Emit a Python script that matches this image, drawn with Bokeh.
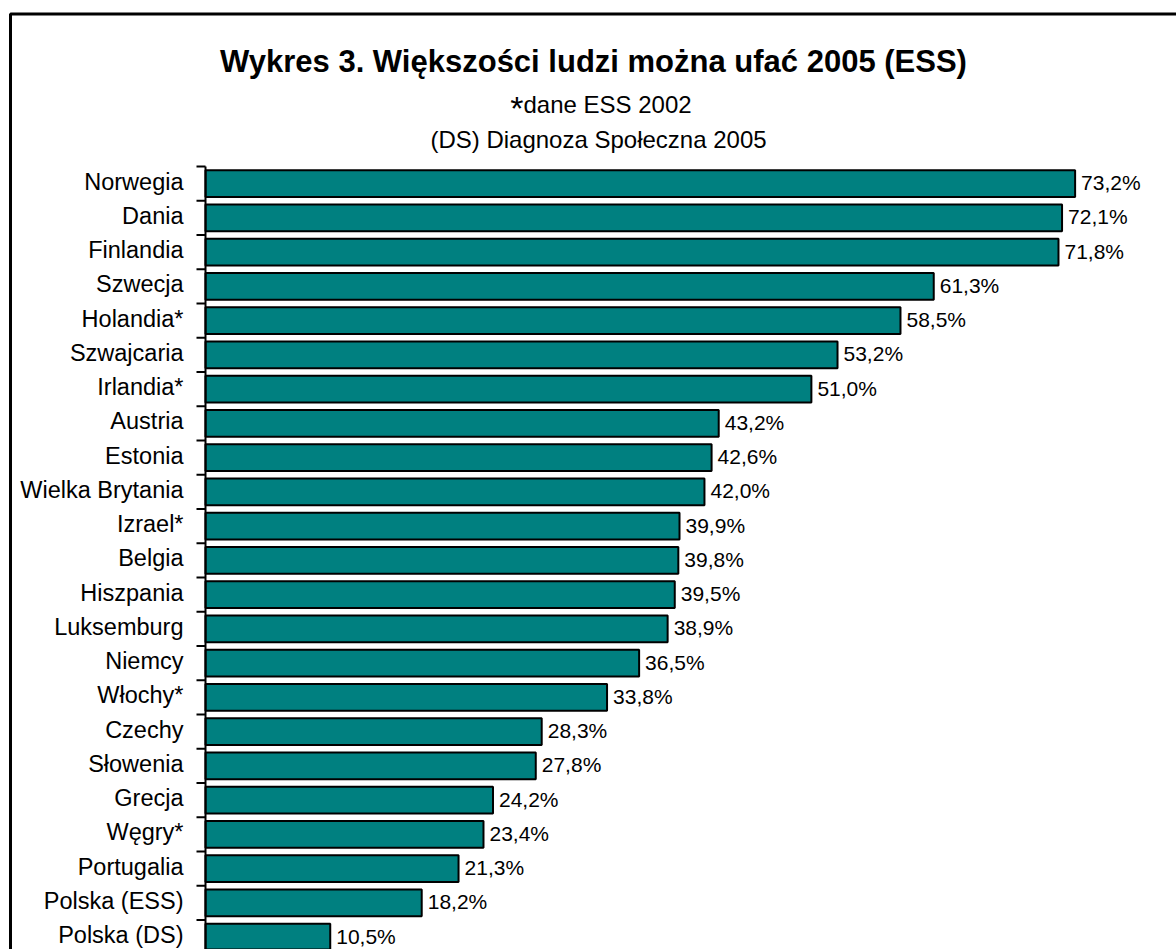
import math
from bokeh.plotting import figure
from bokeh.models import ColumnDataSource, Range1d, Label, BoxAnnotation
from bokeh.core.properties import value
from bokeh.embed import file_html
from bokeh.resources import INLINE

# ---- data ----
countries = ["Norwegia", "Dania", "Finlandia", "Szwecja", "Holandia*", "Szwajcaria",
             "Irlandia*", "Austria", "Estonia", "Wielka Brytania", "Izrael*", "Belgia",
             "Hiszpania", "Luksemburg", "Niemcy", "Włochy*", "Czechy", "Słowenia",
             "Grecja", "Węgry*", "Portugalia", "Polska (ESS)", "Polska (DS)"]
values = [73.2, 72.1, 71.8, 61.3, 58.5, 53.2, 51.0, 43.2, 42.6, 42.0, 39.9, 39.8,
          39.5, 38.9, 36.5, 33.8, 28.3, 27.8, 24.2, 23.4, 21.3, 18.2, 10.5]
title_text = "Wykres 3. Większości ludzi można ufać 2005 (ESS)"
sub1_star = "*"
sub1_text = "dane ESS 2002"
sub2_text = "(DS) Diagnoza Społeczna 2005"

FONT = "Liberation Sans"
W, H = 1176, 949
n = len(countries)
pos = [n - 1 - i for i in range(n)]          # first country at top
labels = [f"{v:.1f}".replace(".", ",") + "%" for v in values]
bounds = [k - 0.5 for k in range(n + 1)]

# layout of the plotting area (pixels)
AXIS_PX, PX_PER_PCT = 205, 11.88
TOP_PX, PX_PER_ROW = 166, 34.25
x_start = -AXIS_PX / PX_PER_PCT
x_end = (W - AXIS_PX) / PX_PER_PCT
y_end = (n - 0.5) + TOP_PX / PX_PER_ROW
y_start = (n - 0.5) - (H - TOP_PX) / PX_PER_ROW

src = ColumnDataSource(dict(y=pos, v=values, lab=labels, name=countries))

p = figure(width=W, height=H, output_backend="svg", toolbar_location=None,
           x_range=Range1d(x_start, x_end), y_range=Range1d(y_start, y_end),
           min_border=0, background_fill_color="white", border_fill_color="white")
p.outline_line_color = None
p.grid.visible = False
p.axis.visible = False

# bars
p.hbar(y="y", right="v", left=0, height=0.78, source=src,
       fill_color="#008080", line_color="black", line_width=2)

# value labels
p.text(x="v", y="y", text="lab", source=src, x_offset=6, y_offset=-1,
       text_align="left", text_baseline="middle",
       text_font=value(FONT), text_font_size="21px", text_color="black")

# category axis: line, boundary ticks, labels
p.segment(x0=[0], y0=[n - 0.5], x1=[0], y1=[bounds[0] - 1],
          line_color="black", line_width=2)
p.ray(x=[0] * len(bounds), y=bounds, length=9, length_units="screen",
      angle=math.pi, line_color="black", line_width=2)
p.text(x=[0] * n, y=pos, text=countries, x_offset=-22, y_offset=-2,
       text_align="right", text_baseline="middle",
       text_font=value(FONT), text_font_size="23.5px", text_color="black")

# outer chart frame (its right and bottom edges lie beyond the window)
p.add_layout(BoxAnnotation(left=10, right=W + 30, top=13.5, bottom=H + 30,
                           left_units="canvas", right_units="canvas",
                           top_units="canvas", bottom_units="canvas",
                           fill_color=None, fill_alpha=0,
                           line_color="black", line_alpha=1, line_width=3))

# titles
p.add_layout(Label(x=593, y=60.5, x_units="canvas", y_units="canvas", text=title_text,
                   text_align="center", text_baseline="alphabetic", text_font=FONT,
                   text_font_size="31px", text_font_style="bold", text_color="black"))
p.add_layout(Label(x=523, y=107, x_units="canvas", y_units="canvas", text=sub1_star,
                   text_align="right", text_baseline="alphabetic", text_font=FONT,
                   text_font_size="34px", text_color="black"))
p.add_layout(Label(x=523, y=103.5, x_units="canvas", y_units="canvas", text=sub1_text,
                   text_align="left", text_baseline="alphabetic", text_font=FONT,
                   text_font_size="24px", text_color="black"))
p.add_layout(Label(x=598, y=138.5, x_units="canvas", y_units="canvas", text=sub2_text,
                   text_align="center", text_baseline="alphabetic", text_font=FONT,
                   text_font_size="24px", text_color="black"))

open("out.html", "w").write(file_html(p, INLINE))
